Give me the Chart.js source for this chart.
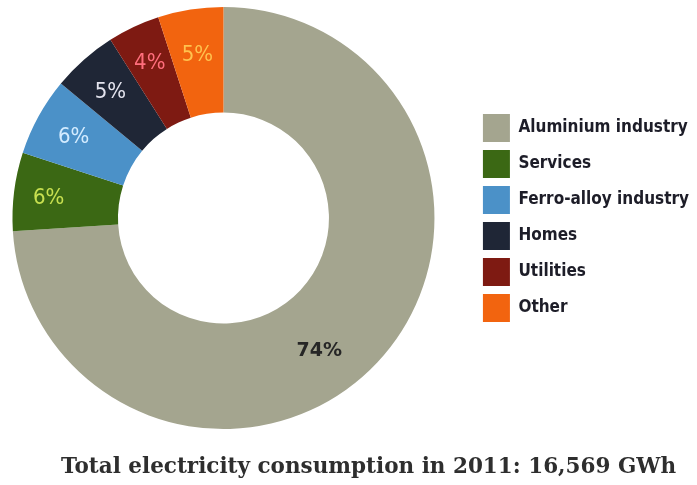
<!DOCTYPE html>
<html>
<head>
<meta charset="utf-8">
<title>Electricity consumption 2011</title>
<script src="https://cdn.jsdelivr.net/npm/chart.js@4.4.1/dist/chart.umd.min.js"></script>
<style>
  html, body { margin: 0; padding: 0; background: #fff; overflow: hidden; }
  body { position: relative; width: 697px; height: 485px; }
  /* canvas is pushed left a little so the ring sits where the legend leaves room */
  #wrap { position: absolute; left: -28px; top: 0; width: 727px; height: 485px; }
  #caption {
    position: absolute; left: 0; top: 452px; width: 737px;
    text-align: center; white-space: nowrap;
    font: bold 21.5px "DejaVu Serif", serif; line-height: 28px;
    color: #2e2e2e;
  }
</style>
</head>
<body>
<div id="wrap"><canvas id="chart"></canvas></div>
<div id="caption"></div>
<script>
const SECTORS = ["Aluminium industry", "Services", "Ferro-alloy industry", "Homes", "Utilities", "Other"];
const SHARES = [74, 6, 6, 5, 4, 5];
const TITLE = "Total electricity consumption in 2011: 16,569 GWh";

const SECTOR_COLORS = ["#a4a58f", "#3b6814", "#4b91c8", "#1f2636", "#7e1a12", "#f2640f"];
const LABEL_COLORS = ["#262626", "#c8e050", "#d4ecff", "#e4e4ee", "#ff6e7c", "#ffc24e"];

document.getElementById("caption").textContent = TITLE;

// writes the share of each slice on top of the ring
const sliceLabels = {
    id: "sliceLabels",
    afterDatasetsDraw(chart, args, opts) {
        const ctx = chart.ctx;
        const meta = chart.getDatasetMeta(0);
        ctx.save();
        ctx.textAlign = "center";
        ctx.textBaseline = "middle";
        meta.data.forEach((arc, i) => {
            const p = arc.getProps(["x", "y", "startAngle", "endAngle", "innerRadius", "outerRadius"], true);
            const angle = p.startAngle + (p.endAngle - p.startAngle) * opts.along[i];
            const r = p.innerRadius + (p.outerRadius - p.innerRadius) * opts.depth[i];
            ctx.font = i == 0 ? opts.bigFont : opts.font;
            ctx.fillStyle = LABEL_COLORS[i];
            ctx.fillText(SHARES[i] + "%", p.x + Math.cos(angle) * r, p.y + Math.sin(angle) * r + opts.drop);
        });
        ctx.restore();
    }
};

new Chart(document.getElementById("chart"), {
    type: "doughnut",
    data: {
        labels: SECTORS,
        datasets: [{
            data: SHARES,
            backgroundColor: SECTOR_COLORS,
            borderWidth: 0,
            hoverOffset: 0
        }]
    },
    plugins: [sliceLabels],
    options: {
        responsive: true,
        maintainAspectRatio: false,
        animation: false,
        events: [],
        cutout: "50%",
        layout: {
            padding: { top: 7, right: 0, left: 0, bottom: 56 }
        },
        plugins: {
            tooltip: { enabled: false },
            legend: {
                position: "right",
                fullSize: false,
                labels: {
                    boxWidth: 27,
                    boxHeight: 28,
                    padding: 8,
                    color: "#1d1d28",
                    font: { family: "'DejaVu Sans Condensed', 'DejaVu Sans'", size: 17, weight: "bold" }
                }
            },
            sliceLabels: {
                along: [0.54, 0.5, 0.5, 0.5, 0.5, 0.5],
                depth: [0.54, 0.67, 0.62, 0.62, 0.64, 0.58],
                drop: 2,
                font: "22px 'DejaVu Sans Condensed', 'DejaVu Sans'",
                bigFont: "bold 19px 'DejaVu Sans'"
            }
        }
    }
});
</script>
</body>
</html>
